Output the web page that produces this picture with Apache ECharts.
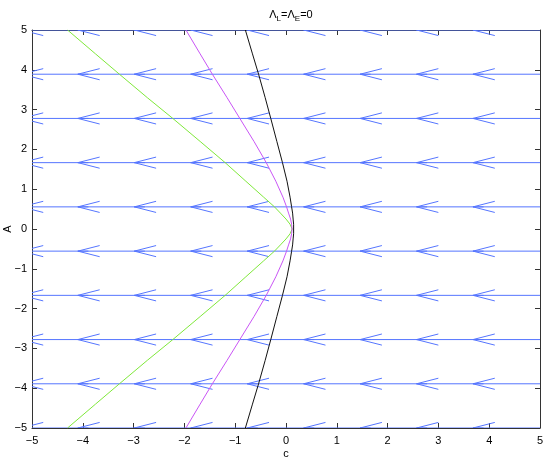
<!DOCTYPE html>
<html>
<head>
<meta charset="utf-8">
<script src="https://cdn.jsdelivr.net/npm/echarts@6/dist/echarts.min.js"></script>
<style>
  html, body { margin: 0; padding: 0; background: #fff; }
  #chart { width: 545px; height: 458px; }
</style>
</head>
<body>
<div id="chart"></div>
<script>
// quiver grid (c along x, A along y)
const quiverC = [-5, -3.889, -2.778, -1.667, -0.556, 0.556, 1.667, 2.778, 3.889, 5];
const quiverA = [-5, -3.889, -2.778, -1.667, -0.556, 0.556, 1.667, 2.778, 3.889, 5];
const arrowLength = 1.32;   // all arrows point in -c direction
const headLength = 0.43;
const headHalfWidth = 0.14;

// curves c(A)
const curveA = [5, 4.4, 3.89, 3.3, 2.78, 2.2, 1.67, 1.2, 0.8, 0.56, 0.4, 0.25, 0.12, 0,
  -0.12, -0.25, -0.4, -0.56, -0.8, -1.2, -1.67, -2.2, -2.78, -3.3, -3.89, -4.4, -5];
const blackC = [-0.80, -0.66, -0.54, -0.41, -0.30, -0.18, -0.07, 0.02, 0.08, 0.11, 0.13, 0.14, 0.15, 0.15,
  0.15, 0.14, 0.13, 0.11, 0.08, 0.02, -0.07, -0.18, -0.30, -0.41, -0.54, -0.66, -0.80];
const magentaC = [-1.97, -1.69, -1.45, -1.16, -0.91, -0.63, -0.39, -0.20, -0.06, 0.01, 0.05, 0.09, 0.11, 0.12,
  0.11, 0.09, 0.05, 0.01, -0.06, -0.20, -0.39, -0.63, -0.91, -1.16, -1.45, -1.69, -1.97];
const greenC = [-4.30, -3.75, -3.28, -2.73, -2.23, -1.69, -1.20, -0.79, -0.44, -0.23, -0.11, 0.00, 0.08, 0.12,
  0.08, 0.00, -0.11, -0.23, -0.44, -0.79, -1.20, -1.69, -2.23, -2.73, -3.28, -3.75, -4.30];

const font = "'Liberation Sans', Arial, sans-serif";
const quiverColor = '#5575ff';

const quiverData = [];
quiverA.forEach(a => quiverC.forEach(c => quiverData.push([c, a])));

const pairs = (cs) => cs.map((c, i) => [c, curveA[i]]);
const fmt = v => (v < 0 ? '\u2212' + (-v) : String(v));

const chart = echarts.init(document.getElementById('chart'));

const axisCommon = {
  type: 'value', min: -5, max: 5, interval: 1,
  splitLine: { show: false },
  axisLine: { show: true, onZero: false, lineStyle: { color: '#333', width: 1 } },
  axisTick: { show: true, inside: true, length: 5, lineStyle: { color: '#333' } }
};

chart.setOption({
  animation: false,
  title: {
    text: '{a|\u039B}{s|L}{a|=\u039B}{s|E}{a|=0}',
    left: 286, top: 4, textAlign: 'center',
    textStyle: {
      rich: {
        a: { fontFamily: font, fontSize: 11, fontWeight: 'normal', color: '#000', padding: [0, 0, 3, 0], verticalAlign: 'bottom' },
        s: { fontFamily: font, fontSize: 8, fontWeight: 'normal', color: '#000', verticalAlign: 'bottom' }
      }
    }
  },
  grid: { left: 32, right: 5, top: 30, bottom: 30, outerBoundsMode: 'none', containLabel: false },
  xAxis: [
    Object.assign({}, axisCommon, {
      position: 'bottom', name: 'c', nameLocation: 'middle', nameGap: 26, nameMoveOverlap: false,
      nameTextStyle: { fontFamily: font, fontSize: 11, color: '#000', verticalAlign: 'middle' },
      axisLabel: { fontFamily: font, fontSize: 11, color: '#000', margin: 7, formatter: fmt }
    }),
    Object.assign({}, axisCommon, { position: 'top', axisLabel: { show: false } })
  ],
  yAxis: [
    Object.assign({}, axisCommon, {
      position: 'left', name: 'A', nameLocation: 'middle', nameGap: 24, nameRotate: 90, nameMoveOverlap: false,
      nameTextStyle: { fontFamily: font, fontSize: 11, color: '#000', verticalAlign: 'middle' },
      axisLabel: { fontFamily: font, fontSize: 11, color: '#000', margin: 5, formatter: fmt }
    }),
    Object.assign({}, axisCommon, { position: 'right', axisLabel: { show: false } })
  ],
  series: [
    {
      type: 'custom',
      clip: true,
      data: quiverData,
      renderItem: (params, api) => {
        const c = api.value(0), a = api.value(1);
        const tail = api.coord([c, a]);
        const tip = api.coord([c - arrowLength, a]);
        const b1 = api.coord([c - arrowLength + headLength, a + headHalfWidth]);
        const b2 = api.coord([c - arrowLength + headLength, a - headHalfWidth]);
        const style = { stroke: quiverColor, lineWidth: 1, fill: null };
        return {
          type: 'group',
          children: [
            { type: 'line', shape: { x1: tail[0], y1: tail[1], x2: tip[0], y2: tip[1] }, style },
            { type: 'polyline', shape: { points: [b1, tip, b2] }, style }
          ]
        };
      }
    },
    {
      type: 'line', data: pairs(greenC), showSymbol: false,
      lineStyle: { color: '#7fe83a', width: 1 }
    },
    {
      type: 'line', data: pairs(magentaC), showSymbol: false,
      lineStyle: { color: '#c955f5', width: 1 }
    },
    {
      type: 'line', data: pairs(blackC), showSymbol: false,
      lineStyle: { color: '#111', width: 1 }
    }
  ]
});
</script>
</body>
</html>
